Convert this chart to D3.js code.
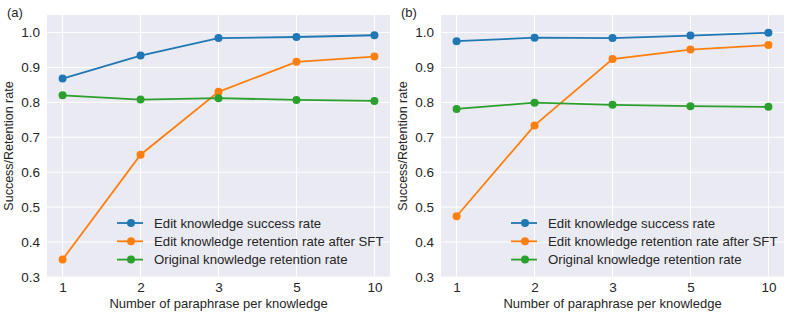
<!DOCTYPE html>
<html>
<head>
<meta charset="utf-8">
<script src="https://cdn.jsdelivr.net/npm/d3@7"></script>
<style>
  body { margin: 0; background: #fff; }
  text { font-family: Arial, "Liberation Sans", sans-serif; fill: #262626; }
</style>
</head>
<body>
<div id="chart"></div>
<script>
// categories on the x axis
const paraphrases = ["1", "2", "3", "5", "10"];
const yTicks = [0.3, 0.4, 0.5, 0.6, 0.7, 0.8, 0.9, 1.0];
const seriesNames = [
    "Edit knowledge success rate",
    "Edit knowledge retention rate after SFT",
    "Original knowledge retention rate"
];
const colors = ["#1f77b4", "#ff7f0e", "#2ca02c"];

// panel (a)
const aSuccess   = [0.868, 0.934, 0.984, 0.987, 0.992];
const aRetainSFT = [0.350, 0.650, 0.830, 0.916, 0.931];
const aOriginal  = [0.820, 0.808, 0.812, 0.807, 0.804];

// panel (b)
const bSuccess   = [0.975, 0.985, 0.984, 0.991, 0.999];
const bRetainSFT = [0.474, 0.734, 0.924, 0.951, 0.964];
const bOriginal  = [0.781, 0.799, 0.793, 0.789, 0.787];

const panels = [
    { label: "(a)", left: 47, series: [aSuccess, aRetainSFT, aOriginal] },
    { label: "(b)", left: 441, series: [bSuccess, bRetainSFT, bOriginal] }
];

const W = 792, H = 317;
const plotW = 343, plotTop = 15, plotBottom = 277;

const svg = d3.select("#chart").append("svg")
    .attr("width", W)
    .attr("height", H);

panels.forEach(p => {
    const g = svg.append("g").attr("transform", `translate(${p.left},0)`);

    const x = d3.scaleLinear().domain([-0.2, 4.2]).range([0, plotW]);
    const y = d3.scaleLinear().domain([0.3, 1.05]).range([plotBottom, plotTop]);

    g.append("rect")
        .attr("x", 0).attr("y", plotTop)
        .attr("width", plotW).attr("height", plotBottom - plotTop)
        .attr("fill", "#eaeaf2");

    // grid
    g.selectAll("line.gy").data(yTicks).enter().append("line")
        .attr("class", "gy")
        .attr("x1", 0).attr("x2", plotW)
        .attr("y1", d => y(d)).attr("y2", d => y(d))
        .attr("stroke", "#fff").attr("stroke-width", 1);
    g.selectAll("line.gx").data(paraphrases).enter().append("line")
        .attr("class", "gx")
        .attr("x1", (d, i) => x(i)).attr("x2", (d, i) => x(i))
        .attr("y1", plotTop).attr("y2", plotBottom)
        .attr("stroke", "#fff").attr("stroke-width", 1);

    // axes (labels only, seaborn darkgrid style)
    const yAxis = g.append("g")
        .call(d3.axisLeft(y).tickValues(yTicks).tickFormat(d3.format(".1f")).tickSize(0).tickPadding(7));
    yAxis.select(".domain").remove();
    yAxis.selectAll("text").style("font-size", "13.5px").attr("fill", "#262626");

    const xAxis = g.append("g")
        .attr("transform", `translate(0,${plotBottom})`)
        .call(d3.axisBottom(x).tickValues(d3.range(paraphrases.length)).tickFormat(i => paraphrases[i]).tickSize(0).tickPadding(5));
    xAxis.select(".domain").remove();
    xAxis.selectAll("text").style("font-size", "13.5px").attr("fill", "#262626");

    g.append("text")
        .attr("x", plotW / 2).attr("y", 308)
        .attr("text-anchor", "middle")
        .style("font-size", "13px")
        .text("Number of paraphrase per knowledge");

    g.append("text")
        .attr("transform", `translate(-34,${(plotTop + plotBottom) / 2}) rotate(-90)`)
        .attr("text-anchor", "middle")
        .style("font-size", "12.5px")
        .text("Success/Retention rate");

    g.append("text")
        .attr("x", -40).attr("y", 17)
        .style("font-size", "13px")
        .text(p.label);

    const line = d3.line().x((d, i) => x(i)).y(d => y(d));

    p.series.forEach((s, k) => {
        g.append("path")
            .datum(s)
            .attr("d", line)
            .attr("fill", "none")
            .attr("stroke", colors[k])
            .attr("stroke-width", 1.8);
        g.selectAll(`circle.s${k}`).data(s).enter().append("circle")
            .attr("class", `s${k}`)
            .attr("cx", (d, i) => x(i))
            .attr("cy", d => y(d))
            .attr("r", 4)
            .attr("fill", colors[k]);
    });

    // legend
    const lg = g.append("g").attr("transform", "translate(70,223)");
    seriesNames.forEach((name, k) => {
        const row = lg.append("g").attr("transform", `translate(0,${k * 18.3})`);
        row.append("line")
            .attr("x1", 0).attr("x2", 26)
            .attr("stroke", colors[k]).attr("stroke-width", 1.8);
        row.append("circle").attr("cx", 14).attr("r", 4).attr("fill", colors[k]);
        row.append("text")
            .attr("x", 37).attr("dy", "0.35em")
            .style("font-size", "13.2px")
            .text(name);
    });
});
</script>
</body>
</html>
